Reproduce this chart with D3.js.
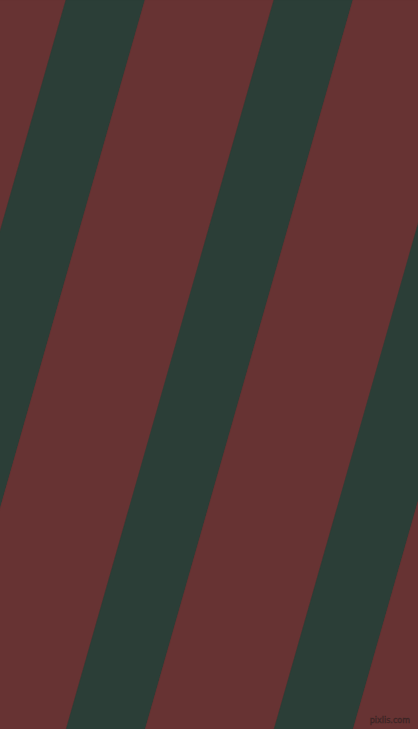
<!DOCTYPE html>
<html>
<head>
<meta charset="utf-8">
<script src="https://cdn.jsdelivr.net/npm/d3@7"></script>
<style>
  html, body { margin: 0; padding: 0; background: #673333; overflow: hidden; }
  svg { display: block; }
</style>
</head>
<body>
<div id="chart"></div>
<script>
// stripe sequence, left to right, with widths measured across the stripe
var stripeKinds = ["red", "green", "red", "green", "red", "green", "red"];
var stripeWidths = [124, 76, 124, 76, 124, 76, 124];
// stripe angle from horizontal, in degrees
var stripeAngle = [74.1];
var firstOffset = [-63];
var credit = ["pixlis.com"];

var width = 418,
    height = 729;

var colors = d3.scaleOrdinal()
  .domain(["red", "green"])
  .range(["#673333", "#2b3e37"]);

var tilt = (90 - stripeAngle[0]) * Math.PI / 180;
var shift = Math.tan(tilt) * height;

// perpendicular distance -> horizontal offset on the top edge
var total = d3.sum(stripeWidths);
var across = d3.scaleLinear()
  .domain([0, total])
  .range([firstOffset[0], firstOffset[0] + total / Math.cos(tilt)]);

var ends = d3.cumsum(stripeWidths);
var bands = stripeKinds.map(function(kind, i) {
  return {kind: kind, from: i ? ends[i - 1] : 0, to: ends[i]};
});

var svg = d3.select("#chart").append("svg")
  .attr("width", width)
  .attr("height", height);

var line = d3.line();

svg.selectAll("path.stripe")
  .data(bands)
  .enter().append("path")
    .attr("class", "stripe")
    .attr("d", function(d) {
      var a = across(d.from), b = across(d.to);
      return line([[a, 0], [b, 0], [b - shift, height], [a - shift, height]]) + "Z";
    })
    .attr("fill", function(d) { return colors(d.kind); })
    .attr("stroke", function(d) { return colors(d.kind); })
    .attr("stroke-width", 0.5);

svg.append("text")
  .attr("x", 410)
  .attr("y", 723)
  .attr("text-anchor", "end")
  .style("font-family", "DejaVu Sans, sans-serif")
  .style("font-size", "8px")
  .style("fill", "#4d2c2c")
  .style("stroke", "#3a2424")
  .style("stroke-width", 0.4)
  .text(credit[0]);
</script>
</body>
</html>
